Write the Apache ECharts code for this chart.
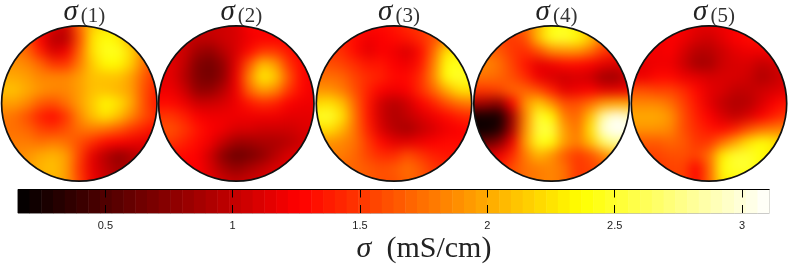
<!DOCTYPE html>
<html>
<head>
<meta charset="utf-8">
<script src="https://cdn.jsdelivr.net/npm/echarts@6/dist/echarts.min.js"></script>
<style>
html,body{margin:0;padding:0;background:#fff;width:789px;height:266px;overflow:hidden}
.disc{position:absolute;width:221px;height:221px;filter:blur(6px);clip-path:circle(77.7px at 50% 50%)}
#main{position:absolute;left:0;top:0;width:789px;height:266px}
</style>
</head>
<body>
<div id="main"></div>
<script>
const sigma1 = [
[1.7,1.7,1.6,1.4,1.15,1.05,1.7,2.15,2.25,2.25,2.0,1.8,1.7],
[1.7,1.7,1.6,1.25,0.95,0.95,1.6,2.25,2.4,2.3,2.0,1.8,1.7],
[1.8,1.8,1.7,1.4,1.1,1.2,1.7,2.25,2.45,2.45,2.2,1.8,1.6],
[1.9,1.9,1.85,1.7,1.5,1.5,1.8,2.15,2.35,2.35,2.15,1.75,1.5],
[2,2,1.95,1.85,1.85,1.85,1.95,2.1,2.1,2.1,1.95,1.65,1.45],
[2.1,2.1,2.0,1.9,1.85,1.85,1.95,2.1,2.1,2.05,1.95,1.6,1.4],
[1.95,1.95,1.85,1.65,1.6,1.75,1.95,2.15,2.35,2.25,2.0,1.6,1.35],
[1.8,1.75,1.6,1.4,1.3,1.5,1.85,2.1,2.25,2.1,1.85,1.6,1.45],
[1.75,1.75,1.7,1.55,1.5,1.6,1.75,1.8,1.75,1.65,1.5,1.4,1.3],
[1.8,1.8,1.8,1.75,1.8,1.75,1.6,1.45,1.3,1.25,1.2,1.15,1.1],
[1.85,1.85,1.9,2.0,2.05,1.95,1.55,1.15,0.95,0.8,0.9,1.05,1.1],
[1.85,1.85,1.95,2.05,2.1,1.95,1.5,1.15,1.0,0.85,0.95,1.05,1.1],
[1.85,1.85,1.95,2.0,2.05,1.95,1.55,1.2,1.05,0.95,1,1.05,1.1]
];
const sigma2 = [
[1.05,1.05,1.05,1.05,1.05,1.05,1.1,1.25,1.3,1.25,1.2,1.2,1.2],
[1.05,1.05,1.05,1.0,1.0,1.05,1.1,1.2,1.25,1.25,1.25,1.25,1.2],
[1.1,1.1,1.05,0.85,0.8,0.95,1.1,1.3,1.5,1.5,1.35,1.25,1.2],
[1.15,1.15,1.0,0.72,0.66,0.8,1.15,1.65,2.1,1.95,1.5,1.3,1.2],
[1.15,1.15,0.95,0.72,0.66,0.8,1.2,1.85,2.3,2.15,1.65,1.3,1.2],
[1.2,1.2,1.05,0.8,0.8,0.95,1.2,1.7,1.95,1.85,1.5,1.3,1.2],
[1.3,1.3,1.2,1.05,1.05,1.1,1.2,1.35,1.45,1.4,1.25,1.2,1.2],
[1.5,1.5,1.4,1.25,1.2,1.2,1.2,1.2,1.2,1.2,1.15,1.15,1.15],
[1.6,1.6,1.5,1.35,1.25,1.2,1.1,1.1,1.05,1.05,1.05,1.1,1.15],
[1.5,1.5,1.4,1.3,1.2,1.0,0.85,0.85,0.9,0.9,0.95,1.05,1.1],
[1.3,1.3,1.3,1.25,1.05,0.75,0.62,0.68,0.78,0.95,1.1,1.15,1.15],
[1.25,1.25,1.25,1.25,1.1,0.9,0.8,0.9,1.0,1.1,1.15,1.15,1.15],
[1.25,1.25,1.25,1.25,1.15,1.05,1.0,1.05,1.1,1.15,1.15,1.15,1.15]
];
const sigma3 = [
[1.4,1.4,1.4,1.35,1.3,1.3,1.35,1.45,1.5,1.6,1.65,1.7,1.7],
[1.45,1.45,1.4,1.3,1.2,1.25,1.3,1.35,1.45,1.6,1.8,1.9,1.9],
[1.5,1.5,1.45,1.3,1.15,1.25,1.2,1.1,1.3,1.7,2.25,2.3,2.1],
[1.6,1.6,1.55,1.45,1.35,1.35,1.25,1.2,1.35,1.8,2.4,2.45,2.3],
[1.75,1.75,1.7,1.55,1.45,1.4,1.3,1.3,1.45,1.85,2.4,2.5,2.4],
[1.9,1.9,1.8,1.6,1.4,1.25,1.2,1.25,1.45,1.7,2.0,2.25,2.25],
[2.2,2.25,2.1,1.7,1.35,1.05,0.95,1.05,1.25,1.4,1.6,1.75,1.8],
[2.45,2.5,2.25,1.75,1.35,1.05,0.92,1.0,1.1,1.2,1.3,1.4,1.45],
[2.2,2.25,2.05,1.75,1.4,1.1,0.95,0.88,1.0,1.1,1.2,1.25,1.3],
[1.9,1.9,1.85,1.75,1.5,1.3,1.15,1.15,1.2,1.25,1.3,1.3,1.3],
[1.8,1.8,1.8,1.7,1.55,1.45,1.45,1.6,1.5,1.4,1.35,1.35,1.35],
[1.7,1.7,1.7,1.7,1.65,1.6,1.65,1.75,1.65,1.5,1.45,1.4,1.4],
[1.7,1.7,1.7,1.7,1.65,1.6,1.6,1.7,1.65,1.5,1.45,1.4,1.4]
];
const sigma4 = [
[1.55,1.55,1.55,1.6,1.7,2.05,2.4,2.45,2.3,1.9,1.6,1.5,1.5],
[1.6,1.6,1.55,1.5,1.6,2.1,2.45,2.5,2.4,2.15,1.75,1.55,1.5],
[1.7,1.7,1.65,1.5,1.45,1.6,1.85,1.9,1.9,1.75,1.5,1.4,1.35],
[1.85,1.85,1.75,1.55,1.35,1.15,1.2,1.3,1.3,1.25,1.15,1.1,1.2],
[1.75,1.75,1.7,1.6,1.45,1.2,1.1,1.05,1.1,1.05,0.85,0.85,1.05],
[1.5,1.5,1.55,1.7,1.7,1.6,1.4,1.15,1.2,1.25,1.15,1.15,1.2],
[0.9,0.85,0.75,1.25,1.9,2.15,1.9,1.6,1.6,1.75,1.95,2.0,2.0],
[0.25,0.25,0.25,0.85,1.85,2.5,2.35,1.8,1.7,2.1,2.85,3.05,2.9],
[0.2,0.2,0.3,0.9,1.9,2.55,2.55,1.95,1.75,2.25,3.0,3.1,3.1],
[0.6,0.6,0.75,1.2,1.95,2.45,2.4,1.95,1.8,2.1,2.65,2.85,2.7],
[1.1,1.1,1.2,1.45,1.8,2.05,1.9,1.65,1.5,1.6,1.85,2.1,2.15],
[1.3,1.3,1.4,1.6,1.75,1.8,1.85,1.75,1.5,1.55,1.6,1.7,1.8],
[1.3,1.3,1.4,1.6,1.75,1.8,1.85,1.75,1.5,1.55,1.6,1.7,1.8]
];
const sigma5 = [
[1.2,1.2,1.2,1.25,1.25,1.15,1.15,1.2,1.25,1.3,1.3,1.3,1.3],
[1.25,1.25,1.2,1.25,1.2,1.1,1.05,1.15,1.25,1.3,1.35,1.35,1.3],
[1.25,1.25,1.2,1.25,1.1,0.95,0.95,1.05,1.15,1.2,1.2,1.25,1.25],
[1.15,1.15,1.2,1.2,1.05,0.88,0.88,1.05,1.1,1.1,1.0,1.05,1.15],
[1.2,1.2,1.3,1.3,1.2,1.15,1.1,1.1,1.1,1.05,0.92,1.0,1.1],
[1.6,1.6,1.55,1.55,1.45,1.3,1.15,1.1,1.0,1.0,1.05,1.1,1.15],
[1.85,1.85,1.85,1.75,1.55,1.35,1.15,1.0,0.92,0.95,1.1,1.25,1.35],
[2.0,2.0,2.0,1.9,1.6,1.4,1.25,1.1,1.0,1.1,1.25,1.4,1.5],
[1.9,1.9,1.9,1.85,1.6,1.45,1.35,1.3,1.4,1.6,1.75,1.8,1.85],
[1.65,1.65,1.65,1.7,1.65,1.5,1.5,1.75,2.0,2.25,2.4,2.3,2.1],
[1.55,1.55,1.55,1.6,1.6,1.55,1.75,2.3,2.5,2.5,2.4,2.25,2.1],
[1.5,1.5,1.5,1.55,1.55,1.25,1.7,2.4,2.5,2.5,2.35,2.2,2.1],
[1.5,1.5,1.5,1.55,1.55,1.3,1.7,2.3,2.35,2.35,2.3,2.2,2.1]
];
const panels = [sigma1, sigma2, sigma3, sigma4, sigma5];
const panelNames = ['1', '2', '3', '4', '5'];
const colorbarLevels = [0.180,0.226,0.272,0.318,0.365,0.411,0.457,0.503,0.549,0.595,0.641,0.687,0.733,0.780,0.826,0.872,0.918,0.964,1.010,1.056,1.102,1.148,1.195,1.241,1.287,1.333,1.379,1.425,1.471,1.517,1.563,1.610,1.656,1.702,1.748,1.794,1.840,1.886,1.932,1.978,2.025,2.071,2.117,2.163,2.209,2.255,2.301,2.347,2.393,2.440,2.486,2.532,2.578,2.624,2.670,2.716,2.762,2.808,2.855,2.901,2.947,2.993,3.039,3.085];
const tickValues = [0.5, 1, 1.5, 2, 2.5, 3];
const vMin = 0.157, vMax = 3.108;
const hotColors = ['#000000','#550000','#aa0000','#ff0000','#ff5500','#ffaa00','#ffff00','#ffff80','#ffffff'];

const centersX = [79.3, 236.3, 394, 551.5, 709];
const centerY = 103.5, radius = 77.7, discBox = 221, pad = 2;

const visual = {show:false, type:'continuous', min:vMin, max:vMax, inRange:{color:hotColors}};
const cellIds = Array.from({length: panels[0].length + 2 * pad}, (_, i) => i);
const renderer = {renderer:'canvas'};
const clamp = (i, n) => Math.max(0, Math.min(n - 1, i));

panels.forEach((m, k) => {
  const d = document.createElement('div');
  d.className = 'disc';
  d.style.left = (centersX[k] - discBox / 2) + 'px';
  d.style.top = (centerY - discBox / 2) + 'px';
  document.body.insertBefore(d, document.getElementById('main'));
  const cells = [];
  // margin cells repeat the nearest edge value; they lie outside the clipped disc
  cellIds.forEach(i => cellIds.forEach(j => {
    cells.push([j, i, m[clamp(i - pad, m.length)][clamp(j - pad, m.length)]]);
  }));
  echarts.init(d, null, renderer).setOption({
    animation:false,
    visualMap:visual,
    grid:{left:0, right:0, top:0, bottom:0},
    xAxis:{type:'category', data:cellIds, show:false},
    yAxis:{type:'category', data:cellIds, show:false, inverse:true},
    series:[{type:'heatmap', data:cells, silent:true}]
  });
});

const mathFont = '"Liberation Serif", "DejaVu Serif", serif';
const titles = panelNames.map((n, k) => ({
  left: centersX[k] + 0, top: -8, textAlign:'center',
  text: '{s|σ}{n|(' + n + ')}',
  textStyle:{fontWeight:'normal', rich:{
    s:{fontFamily:mathFont, fontStyle:'italic', fontWeight:'normal', fontSize:29, color:'#222'},
    n:{fontFamily:mathFont, fontWeight:'normal', fontSize:21, color:'#333', padding:[9,0,0,3]}
  }}
}));
titles.push({
  left: 419, top: 229, textAlign:'center',
  text: '{s|σ}{n|  (mS/cm)}',
  textStyle:{fontWeight:'normal', rich:{
    s:{fontFamily:mathFont, fontStyle:'italic', fontWeight:'normal', fontSize:30, color:'#222'},
    n:{fontFamily:mathFont, fontWeight:'normal', fontSize:30, color:'#222'}
  }}
});

const chart = echarts.init(document.getElementById('main'), null, renderer);
chart.setOption({
  animation:false,
  backgroundColor:'transparent',
  title:titles,
  visualMap:visual,
  grid:{left:18, top:189.5, width:751.5, height:23.5, show:true, borderColor:'#777', borderWidth:1, backgroundColor:'transparent'},
  xAxis:[
    {type:'category', data:colorbarLevels, show:false},
    {type:'value', min:vMin, max:vMax, position:'bottom', z:10,
     axisLine:{show:false},
     axisTick:{show:false, customValues:tickValues},
     splitLine:{show:true, lineStyle:{color:'#000', width:1, type:[8,7.5]}},
     axisLabel:{customValues:tickValues, color:'#222', fontFamily:'"Liberation Sans", Arial, sans-serif', fontSize:11, margin:7, formatter:v => String(v)}}
  ],
  yAxis:{type:'category', data:['level'], show:false},
  series:[{type:'heatmap', xAxisIndex:0, silent:true, data:colorbarLevels.map((v, i) => [i, 0, v])}],
  graphic:centersX.map(cx => ({
    type:'circle', silent:true, z:20,
    shape:{cx:cx, cy:centerY, r:radius},
    style:{fill:'transparent', stroke:'#111', lineWidth:1.7}
  })).concat([{
    type:'line', silent:true, z:20,
    shape:{x1:18, y1:189.5, x2:769.5, y2:189.5},
    style:{stroke:'#000', lineWidth:1}
  }])
});
</script>
</body>
</html>
